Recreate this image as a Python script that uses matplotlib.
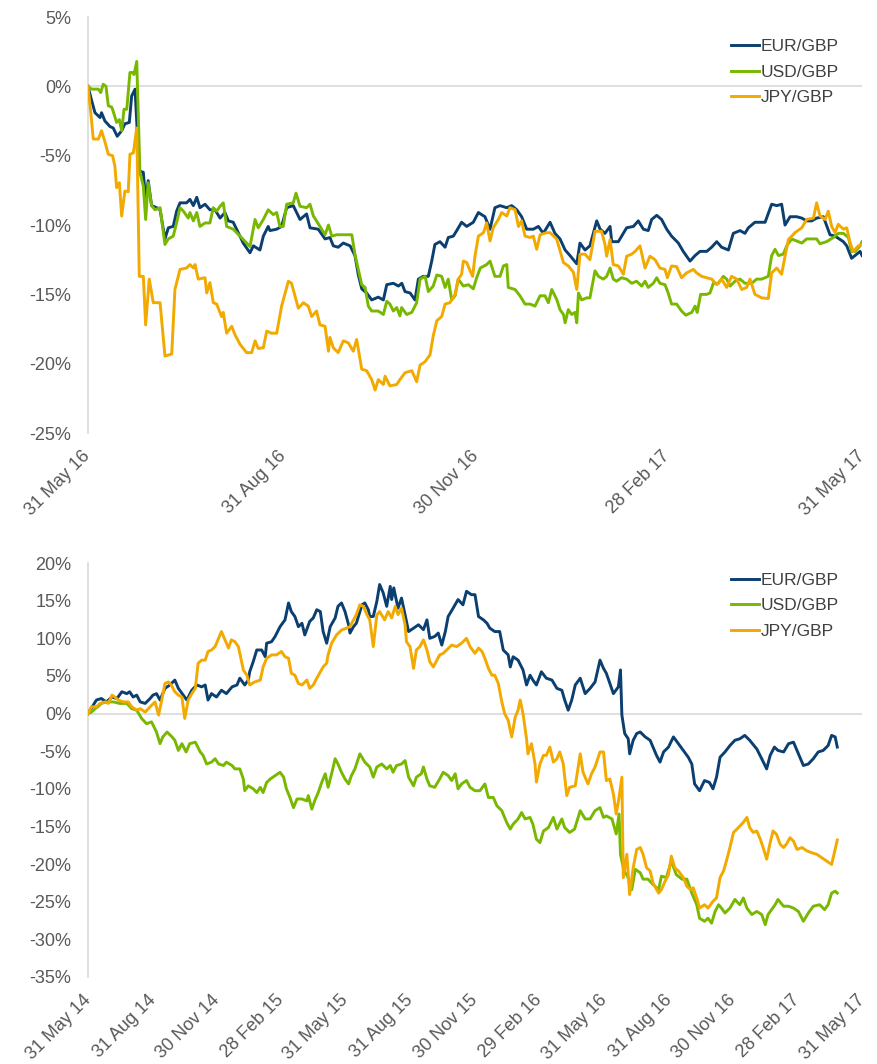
import matplotlib
matplotlib.use('Agg')
import matplotlib.pyplot as plt
from matplotlib.ticker import FuncFormatter
import pandas as pd

plt.rcParams['font.family'] = ['Liberation Sans', 'DejaVu Sans']

eur_col = '#0B3F70'
usd_col = '#78B800'
jpy_col = '#F2A900'
grid_col = '#D9D9D9'
text_col = '#595959'

names = ['EUR/GBP', 'USD/GBP', 'JPY/GBP']

# top chart: (days after 31 May 16, % change)
top_start = '2016-05-31'
top_end = '2017-05-31'
top_ticks = ['31 May 16', '31 Aug 16', '30 Nov 16', '28 Feb 17', '31 May 17']

top_eur = [(0, 0.0), (1.7, -1.0), (3.3, -1.9), (5.7, -2.25), (6.4, -1.9), (8.0, -2.5), (10.4, -2.9), (11.9, -3.0),
           (13.8, -3.6), (15.9, -3.2), (17.4, -2.7), (19.5, -2.6), (20.6, -0.7), (22.2, -0.2), (24.2, -6.1),
           (26.1, -6.2), (27.2, -8.2), (28.4, -6.8), (30.0, -8.6), (32.4, -8.75), (34.0, -8.9), (36.3, -11.0),
           (37.9, -10.2), (40.2, -10.1), (41.8, -9.0), (43.4, -8.4), (46.5, -8.4), (48.1, -8.15), (49.7, -8.6),
           (51.3, -8.0), (52.8, -8.75), (55.2, -8.5), (57.5, -8.9), (59.9, -8.9), (62.3, -9.5), (64.6, -9.1),
           (66.2, -9.7), (68.5, -9.8), (70.1, -10.3), (73.2, -11.3), (76.4, -12.0), (78.0, -11.5), (81.1, -11.8),
           (82.7, -10.8), (85.0, -10.1), (85.8, -10.4), (89.0, -10.3), (91.3, -10.1), (93.7, -8.75), (96.8, -8.6),
           (100.0, -9.6), (103.1, -9.2), (104.7, -10.2), (108.6, -10.3), (111.8, -11.0), (114.1, -10.9),
           (115.7, -11.5), (118.0, -11.6), (120.4, -11.3), (123.6, -11.5), (125.9, -12.2), (127.5, -13.6),
           (129.1, -14.6), (131.4, -14.9), (133.8, -15.4), (136.9, -15.2), (139.3, -15.4), (140.9, -14.3),
           (144.0, -14.2), (146.4, -14.4), (148.0, -14.2), (149.5, -14.8), (151.9, -14.9), (154.2, -15.4),
           (155.8, -13.9), (158.1, -13.7), (160.5, -13.7), (162.1, -12.6), (163.6, -11.4), (166.0, -11.2),
           (168.4, -11.6), (169.9, -10.9), (172.3, -10.8), (173.9, -10.4), (176.2, -9.8), (178.6, -10.1),
           (181.7, -9.8), (184.1, -9.1), (187.2, -9.4), (189.6, -10.3), (191.9, -8.75), (194.3, -8.6),
           (197.5, -8.75), (199.8, -8.6), (202.2, -8.9), (204.5, -9.4), (206.9, -10.3), (210.0, -10.3),
           (212.4, -10.1), (214.7, -10.6), (217.9, -9.8), (220.2, -10.6), (222.6, -11.0), (225.0, -11.8),
           (227.3, -12.2), (230.5, -12.8), (232.0, -11.3), (234.4, -11.8), (236.7, -11.5), (238.3, -10.6),
           (239.9, -9.7), (241.5, -10.3), (243.8, -10.6), (246.2, -10.1), (247.0, -11.2), (250.1, -11.2),
           (254.0, -10.2), (257.2, -10.1), (259.5, -9.7), (261.9, -10.3), (264.2, -10.4), (265.8, -9.6),
           (268.2, -9.3), (270.5, -9.6), (272.9, -10.3), (275.2, -10.8), (278.4, -11.3), (280.7, -11.9),
           (283.9, -12.6), (286.3, -12.2), (288.6, -11.9), (291.8, -11.9), (294.1, -11.6), (296.5, -11.2),
           (298.8, -11.6), (302.0, -11.8), (304.3, -10.6), (307.5, -10.4), (309.8, -10.6), (311.4, -10.2),
           (314.5, -9.8), (319.3, -9.8), (322.4, -8.5), (324.8, -8.6), (327.1, -8.5), (328.7, -10.0),
           (331.1, -9.4), (334.2, -9.4), (336.6, -9.5), (338.9, -9.7), (341.3, -9.7), (343.6, -9.5),
           (346.8, -9.4), (349.9, -10.7), (352.3, -10.8), (356.2, -11.2), (357.8, -11.5), (360.1, -12.4),
           (362.5, -12.1), (364.1, -11.9), (365, -12.2)]

top_usd = [(0, 0.0), (1.7, -0.2), (3.3, -0.2), (4.9, -0.2), (6.0, -0.45), (7.2, 0.15), (8.5, 0.0), (9.6, -1.4),
           (11.2, -1.5), (11.9, -1.8), (13.5, -2.6), (14.8, -2.4), (15.9, -3.2), (17.0, -1.65), (18.3, -1.65),
           (19.8, 1.0), (21.1, 1.0), (21.7, 0.85), (23.0, 1.8), (24.5, -6.2), (26.1, -7.2), (27.2, -9.6),
           (28.4, -6.95), (30.0, -8.6), (31.6, -8.9), (34.0, -8.75), (36.3, -11.4), (37.9, -11.0), (40.2, -10.8),
           (41.8, -9.85), (43.4, -8.75), (45.0, -9.0), (47.3, -9.5), (48.1, -9.1), (49.7, -9.7), (51.3, -9.1),
           (52.8, -10.1), (55.2, -9.85), (57.5, -9.85), (59.1, -8.75), (60.7, -9.0), (62.3, -8.65), (63.8, -8.4),
           (65.4, -10.1), (68.5, -10.3), (71.7, -10.8), (74.8, -11.3), (76.4, -11.55), (78.8, -9.6), (80.3, -10.2),
           (82.7, -9.6), (85.0, -8.9), (87.4, -9.25), (89.0, -9.1), (90.5, -10.1), (92.1, -10.1), (93.7, -8.5),
           (96.8, -8.4), (98.1, -7.7), (100.0, -8.65), (103.1, -8.75), (104.7, -8.5), (106.3, -9.35),
           (109.4, -10.1), (111.8, -10.7), (113.4, -10.0), (115.0, -10.8), (117.3, -10.7), (120.4, -10.7),
           (124.4, -10.7), (126.0, -12.2), (127.5, -13.2), (129.1, -14.3), (130.7, -14.5), (132.2, -15.85),
           (133.8, -16.2), (136.9, -16.2), (139.3, -16.45), (140.9, -15.5), (142.4, -15.7), (144.0, -16.2),
           (145.6, -15.95), (147.1, -16.55), (147.9, -15.95), (150.3, -16.45), (152.7, -16.3), (155.0, -15.6),
           (156.6, -13.9), (159.0, -13.7), (160.5, -14.8), (162.8, -14.4), (164.5, -13.6), (166.8, -13.7),
           (168.4, -14.5), (169.9, -13.9), (171.5, -15.4), (173.1, -15.1), (174.6, -13.9), (177.0, -14.4),
           (179.4, -14.3), (181.7, -14.6), (183.3, -13.8), (185.0, -13.1), (188.0, -12.85), (189.6, -12.6),
           (191.9, -13.7), (194.3, -13.7), (195.9, -12.95), (197.5, -12.85), (198.2, -14.5), (201.4, -14.65),
           (203.7, -15.1), (206.1, -15.7), (208.5, -15.7), (210.8, -15.85), (213.2, -15.1), (215.5, -15.1),
           (217.1, -15.6), (218.7, -14.65), (221.0, -15.35), (222.6, -16.1), (224.2, -16.45), (225.0, -17.05),
           (226.5, -16.1), (228.1, -16.45), (229.7, -16.3), (230.5, -17.05), (231.3, -14.9), (232.8, -15.4),
           (235.2, -15.25), (236.7, -15.25), (239.1, -13.3), (240.7, -13.7), (243.0, -13.9), (244.6, -13.7),
           (246.2, -13.1), (247.7, -13.9), (249.3, -14.05), (251.6, -13.8), (254.0, -13.9), (256.4, -14.2),
           (258.7, -14.05), (261.1, -14.4), (262.7, -14.05), (264.2, -14.5), (266.6, -14.2), (268.2, -13.8),
           (269.7, -14.2), (272.1, -14.3), (273.6, -14.9), (275.2, -15.7), (277.6, -15.7), (279.9, -16.2),
           (281.9, -16.5), (284.7, -16.3), (286.3, -15.85), (287.3, -16.3), (288.9, -15.0), (291.8, -15.0),
           (293.3, -14.9), (294.9, -14.2), (297.3, -14.2), (299.6, -13.7), (301.2, -13.9), (302.8, -14.4),
           (305.1, -14.05), (307.5, -13.9), (309.8, -14.2), (313.0, -14.2), (315.3, -13.9), (317.7, -13.9),
           (320.8, -13.7), (322.4, -12.2), (324.0, -11.75), (325.6, -12.2), (327.9, -12.1), (329.5, -11.5),
           (331.8, -11.0), (334.2, -11.15), (336.6, -11.3), (338.9, -11.0), (341.3, -11.0), (343.6, -11.0),
           (345.2, -11.35), (348.3, -11.2), (351.5, -10.9), (353.8, -10.6), (356.2, -10.6), (358.6, -10.9),
           (360.1, -11.9), (361.7, -11.9), (364.1, -11.5), (365, -11.2)]

top_jpy = [(0, 0.0), (1.4, -2.0), (2.5, -3.8), (4.9, -3.8), (6.4, -3.2), (8.0, -4.0), (9.6, -4.9), (11.6, -5.0),
           (12.7, -5.75), (13.5, -7.3), (14.8, -6.95), (15.9, -9.35), (17.4, -7.55), (19.0, -7.6), (19.8, -4.9),
           (21.4, -4.8), (23.0, -3.0), (24.2, -13.7), (26.1, -13.7), (27.2, -17.2), (28.9, -13.9), (30.8, -15.6),
           (34.0, -15.6), (36.3, -19.45), (39.5, -19.3), (41.0, -14.65), (43.4, -13.2), (46.5, -13.1),
           (48.1, -12.85), (49.7, -13.1), (50.5, -12.85), (52.0, -13.9), (55.2, -13.8), (56.0, -14.9),
           (57.5, -14.15), (59.1, -15.6), (60.7, -15.7), (63.0, -16.6), (63.8, -16.3), (65.4, -17.8),
           (67.8, -17.3), (69.3, -17.9), (71.7, -18.6), (74.8, -19.2), (77.2, -19.2), (78.8, -18.35),
           (80.3, -18.9), (82.7, -18.85), (84.3, -17.65), (86.6, -17.8), (89.0, -17.8), (91.3, -15.85),
           (94.5, -14.05), (96.0, -14.2), (99.2, -16.0), (101.6, -15.6), (103.9, -15.85), (105.5, -16.6),
           (107.8, -16.2), (109.4, -17.2), (111.8, -17.3), (113.4, -19.1), (114.1, -18.1), (115.7, -18.85),
           (118.0, -19.2), (120.4, -18.35), (122.8, -18.5), (125.1, -19.1), (126.7, -18.25), (129.1, -20.4),
           (131.4, -20.5), (133.8, -21.15), (135.4, -21.9), (136.9, -21.15), (139.3, -21.5), (140.1, -20.9),
           (142.4, -21.6), (145.6, -21.5), (147.1, -21.15), (149.5, -20.65), (152.7, -20.5), (155.0, -21.3),
           (156.6, -20.1), (159.0, -19.85), (161.3, -19.35), (162.8, -18.0), (164.5, -16.9), (166.8, -16.6),
           (168.4, -15.7), (170.7, -15.6), (173.1, -15.0), (174.6, -13.9), (176.2, -13.55), (177.0, -12.6),
           (178.6, -12.7), (180.2, -13.3), (181.4, -13.7), (182.5, -12.25), (184.1, -10.8), (186.5, -10.55),
           (188.0, -9.85), (189.6, -11.15), (191.1, -10.2), (193.5, -9.6), (195.1, -9.1), (197.5, -9.35),
           (199.0, -8.75), (201.4, -8.9), (203.0, -10.1), (204.5, -9.7), (206.1, -10.8), (208.5, -10.9),
           (210.0, -10.8), (211.6, -11.75), (213.2, -10.7), (216.3, -10.55), (217.9, -10.55), (221.0, -11.0),
           (224.2, -12.7), (226.5, -12.95), (228.9, -13.4), (230.5, -14.65), (232.0, -12.1), (234.4, -12.1),
           (236.7, -12.5), (239.1, -10.45), (242.2, -10.45), (243.8, -11.4), (244.6, -12.25), (246.2, -11.05),
           (247.7, -12.85), (250.1, -12.95), (252.5, -13.55), (254.0, -12.25), (256.4, -12.1), (258.0, -11.9),
           (260.3, -11.5), (262.7, -13.1), (265.0, -12.25), (267.4, -12.5), (269.7, -13.1), (272.1, -13.2),
           (273.2, -13.8), (275.2, -12.95), (277.6, -13.0), (279.9, -13.8), (282.3, -13.45), (285.5, -13.2),
           (287.0, -13.45), (289.4, -13.7), (291.8, -13.8), (294.1, -13.9), (296.5, -14.3), (298.8, -13.9),
           (301.2, -14.5), (303.5, -13.7), (305.9, -13.9), (308.3, -14.65), (310.6, -14.5), (312.2, -13.9),
           (314.5, -15.0), (317.7, -15.25), (320.8, -15.3), (322.4, -13.45), (324.8, -13.1), (327.1, -13.55),
           (328.7, -12.25), (330.3, -11.05), (333.4, -10.55), (336.6, -10.2), (338.9, -9.6), (342.1, -9.5),
           (343.6, -8.4), (345.2, -9.35), (347.6, -9.6), (349.1, -9.0), (350.7, -10.1), (352.3, -10.55),
           (353.8, -9.95), (356.2, -10.3), (357.8, -10.2), (359.4, -11.3), (360.9, -11.9), (363.3, -11.5),
           (365, -11.4)]

# bottom chart: (days after 31 May 14, % change)
bot_start = '2014-05-31'
bot_end = '2017-05-31'
bot_ticks = ['31 May 14', '31 Aug 14', '30 Nov 14', '28 Feb 15', '31 May 15', '31 Aug 15', '30 Nov 15',
             '29 Feb 16', '31 May 16', '31 Aug 16', '30 Nov 16', '28 Feb 17', '31 May 17']

bot_eur = [(0, 0.0), (12, 1.8), (19, 2.0), (26, 1.55), (34, 2.2), (41, 2.0), (48, 2.9), (55, 2.65), (59, 2.9),
           (64, 2.2), (69, 2.45), (74, 1.55), (81, 1.35), (88, 2.0), (92, 2.45), (97, 2.65), (102, 1.8),
           (109, 3.35), (116, 3.8), (123, 4.45), (128, 3.35), (135, 2.45), (140, 1.8), (147, 3.1), (154, 3.8),
           (161, 3.55), (166, 3.8), (170, 1.8), (175, 2.65), (182, 2.2), (189, 3.1), (196, 2.65), (204, 3.55),
           (211, 3.8), (215, 4.7), (222, 3.8), (227, 4.45), (229, 5.55), (234, 6.9), (239, 8.45), (246, 8.45),
           (251, 7.55), (253, 9.35), (260, 9.55), (265, 10.25), (272, 11.55), (279, 12.45), (284, 14.7),
           (288, 13.55), (293, 12.9), (298, 11.55), (303, 12.0), (307, 10.45), (314, 12.25), (319, 12.7),
           (324, 13.8), (329, 13.55), (333, 10.9), (338, 9.35), (343, 11.55), (350, 12.7), (354, 14.25),
           (359, 14.7), (364, 13.55), (369, 11.8), (371, 10.7), (376, 11.55), (380, 12.0), (388, 14.45),
           (392, 14.7), (397, 13.8), (399, 12.9), (404, 12.9), (409, 14.9), (413, 17.15), (418, 16.05),
           (423, 14.25), (428, 16.9), (430, 15.15), (433, 16.7), (439, 14.0), (444, 15.35), (449, 13.15),
           (454, 10.9), (461, 11.35), (468, 11.8), (475, 11.15), (480, 12.45), (484, 10.0), (491, 10.25),
           (496, 10.7), (501, 9.1), (506, 10.9), (510, 12.9), (517, 14.0), (524, 15.15), (531, 14.45),
           (536, 16.25), (543, 15.8), (548, 15.8), (553, 12.9), (560, 12.45), (565, 12.0), (569, 11.35),
           (576, 10.9), (583, 10.9), (588, 8.45), (595, 7.8), (598, 6.2), (602, 7.55), (609, 7.1), (616, 5.8),
           (621, 3.8), (626, 5.1), (630, 4.45), (635, 3.8), (642, 5.55), (649, 4.7), (657, 4.45), (664, 3.35),
           (671, 3.1), (675, 1.8), (680, 0.45), (685, 1.8), (690, 3.8), (697, 4.7), (704, 2.65), (711, 3.35),
           (718, 4.2), (725, 7.1), (730, 6.0), (734, 5.35), (739, 4.0), (744, 2.65), (751, 3.55), (754, 5.8),
           (756, -0.2), (760, -2.65), (765, -3.35), (767, -5.35), (772, -3.55), (777, -2.65), (782, -2.45),
           (789, -3.1), (796, -3.55), (800, -4.45), (805, -5.55), (810, -6.45), (815, -5.1), (822, -4.45),
           (829, -3.1), (836, -4.0), (843, -4.9), (850, -5.8), (855, -6.7), (859, -9.35), (866, -10.25),
           (873, -8.9), (880, -9.15), (885, -10.0), (890, -8.45), (895, -5.8), (902, -5.1), (909, -4.25),
           (916, -3.55), (923, -3.35), (930, -2.9), (937, -3.55), (947, -4.7), (954, -6.0), (961, -7.35),
           (966, -5.55), (972, -4.45), (977, -4.9), (985, -5.1), (992, -4.0), (999, -3.8), (1006, -5.35),
           (1013, -6.9), (1020, -6.7), (1027, -6.0), (1034, -5.1), (1041, -4.9), (1048, -4.25), (1053, -2.9),
           (1058, -3.1), (1061, -4.45)]

bot_usd = [(0, 0.0), (5, 0.2), (10, 0.65), (14, 0.9), (19, 1.35), (26, 1.55), (36, 1.55), (45, 1.35), (55, 1.35),
           (62, 0.65), (69, 0.45), (76, -0.65), (83, -1.35), (90, -1.1), (97, -2.45), (102, -4.0), (106, -3.1),
           (112, -2.45), (119, -3.1), (123, -3.55), (128, -4.9), (133, -4.0), (139, -5.1), (144, -4.0),
           (152, -3.8), (159, -5.1), (163, -5.55), (168, -6.7), (175, -6.45), (180, -6.0), (185, -6.7),
           (192, -6.9), (196, -6.45), (204, -6.9), (208, -7.35), (215, -7.35), (220, -8.7), (222, -10.25),
           (227, -9.6), (234, -10.0), (239, -10.5), (244, -9.8), (248, -10.5), (253, -9.15), (258, -8.7),
           (265, -8.25), (272, -7.8), (277, -8.45), (281, -10.0), (286, -11.15), (291, -12.5), (296, -11.35),
           (303, -11.35), (310, -11.6), (312, -10.9), (317, -12.7), (321, -11.6), (326, -10.5), (331, -9.15),
           (336, -8.0), (340, -9.8), (345, -8.0), (350, -6.0), (354, -6.7), (359, -7.8), (364, -8.7),
           (369, -9.35), (373, -8.25), (378, -7.35), (385, -5.35), (392, -6.45), (399, -7.1), (404, -8.45),
           (409, -7.1), (416, -6.7), (423, -7.35), (428, -6.9), (432, -7.8), (437, -6.9), (444, -6.7),
           (449, -6.25), (454, -8.45), (461, -9.6), (465, -8.45), (472, -8.0), (475, -7.1), (480, -8.7),
           (484, -9.6), (491, -9.8), (498, -8.7), (503, -7.8), (510, -8.25), (515, -8.9), (520, -8.0),
           (524, -10.0), (529, -9.35), (536, -8.9), (541, -9.8), (548, -10.25), (555, -10.25), (562, -9.35),
           (567, -11.15), (574, -11.15), (579, -12.25), (586, -12.9), (593, -14.5), (598, -15.35), (602, -14.7),
           (609, -14.0), (614, -13.15), (619, -14.0), (626, -13.8), (630, -14.7), (635, -16.7), (640, -17.15),
           (645, -15.6), (652, -15.15), (659, -13.8), (664, -15.35), (671, -14.0), (675, -15.15), (682, -15.8),
           (689, -15.35), (697, -12.9), (704, -14.0), (711, -14.0), (718, -12.9), (725, -12.5), (730, -13.8),
           (734, -13.6), (742, -14.0), (748, -16.0), (752, -13.35), (754, -18.7), (759, -20.9), (764, -21.6),
           (770, -23.4), (775, -20.7), (782, -21.15), (786, -22.0), (793, -22.0), (800, -22.7), (808, -23.4),
           (812, -21.6), (819, -21.8), (826, -19.6), (833, -21.4), (841, -22.0), (848, -22.0), (855, -23.85),
           (862, -25.4), (866, -27.2), (873, -27.6), (878, -27.2), (883, -27.85), (888, -26.3), (893, -25.4),
           (897, -25.85), (902, -26.5), (909, -25.85), (916, -24.7), (923, -25.4), (928, -24.5), (933, -25.85),
           (940, -26.7), (947, -26.3), (954, -26.7), (959, -28.05), (963, -26.7), (968, -26.05), (973, -25.4),
           (977, -24.7), (985, -25.6), (992, -25.6), (999, -25.85), (1006, -26.3), (1013, -27.6), (1020, -26.5),
           (1027, -25.6), (1036, -25.4), (1043, -26.05), (1048, -25.4), (1053, -23.85), (1058, -23.6),
           (1061, -23.85)]

bot_jpy = [(0, 0.0), (5, 0.9), (12, 0.9), (17, 1.35), (24, 1.55), (29, 1.35), (34, 2.45), (38, 2.2), (43, 1.8),
           (50, 1.55), (57, 1.55), (62, 0.9), (69, 0.45), (74, 0.65), (81, 0.2), (88, 0.9), (95, 1.55),
           (100, -0.2), (104, 1.55), (109, 4.0), (114, 4.2), (118, 3.8), (123, 2.9), (128, 2.45), (133, 2.2),
           (137, -0.65), (142, 1.8), (147, 2.65), (152, 3.35), (156, 6.7), (161, 7.1), (166, 7.1), (170, 8.25),
           (175, 8.45), (180, 8.9), (185, 10.0), (189, 10.9), (194, 9.8), (199, 8.7), (203, 9.8), (208, 9.55),
           (213, 8.9), (220, 5.8), (225, 5.1), (229, 3.8), (236, 4.2), (244, 4.45), (248, 6.2), (253, 7.35),
           (260, 7.8), (267, 7.8), (274, 8.25), (279, 7.55), (284, 7.35), (288, 5.35), (293, 5.1), (298, 4.0),
           (303, 3.8), (310, 4.45), (314, 3.35), (319, 3.8), (324, 4.7), (329, 5.55), (333, 6.2), (338, 6.7),
           (340, 7.8), (345, 9.35), (352, 10.45), (359, 11.1), (366, 11.35), (371, 11.55), (376, 12.45),
           (380, 13.15), (385, 14.45), (390, 14.25), (395, 13.15), (399, 12.45), (404, 8.9), (409, 13.1),
           (413, 13.55), (420, 12.45), (425, 13.55), (430, 12.7), (435, 14.25), (439, 13.15), (444, 14.0),
           (449, 11.8), (451, 9.55), (456, 8.9), (461, 6.0), (465, 8.45), (470, 8.9), (475, 9.8), (480, 8.45),
           (484, 6.9), (489, 6.2), (494, 7.1), (498, 7.8), (503, 8.0), (508, 8.45), (515, 9.1), (522, 8.9),
           (529, 9.35), (536, 10.0), (541, 8.9), (548, 8.0), (553, 8.7), (558, 8.25), (562, 7.35), (567, 6.0),
           (572, 5.1), (576, 5.1), (581, 4.0), (586, 1.55), (590, 0.0), (595, -0.9), (600, -3.1), (605, -0.45),
           (609, 0.45), (612, 1.8), (616, 0.0), (621, -3.35), (623, -5.35), (628, -4.0), (633, -6.7),
           (635, -9.1), (640, -6.7), (645, -5.55), (649, -5.55), (654, -4.45), (659, -6.45), (664, -6.0),
           (668, -5.1), (673, -6.7), (678, -10.9), (682, -9.8), (690, -9.6), (697, -5.35), (701, -7.8),
           (708, -9.35), (713, -8.0), (718, -7.1), (725, -5.1), (730, -5.1), (734, -8.9), (739, -8.7),
           (744, -10.7), (748, -13.35), (752, -11.15), (756, -8.45), (758, -21.8), (763, -18.7), (767, -24.05),
           (772, -20.5), (777, -18.05), (782, -17.8), (786, -18.7), (791, -20.5), (796, -20.9), (800, -22.5),
           (808, -23.85), (812, -23.4), (817, -22.3), (822, -21.4), (826, -18.95), (831, -20.5), (836, -20.9),
           (843, -21.8), (848, -22.95), (853, -23.4), (857, -23.15), (862, -24.5), (866, -25.85), (873, -25.4),
           (878, -25.85), (885, -24.95), (890, -24.5), (895, -21.8), (900, -20.9), (904, -19.6), (909, -17.8),
           (914, -15.8), (921, -15.15), (928, -14.45), (933, -13.8), (937, -15.15), (942, -15.8), (947, -15.6),
           (952, -16.7), (956, -17.8), (961, -19.35), (966, -17.15), (970, -15.6), (975, -16.05), (980, -17.35),
           (985, -17.8), (989, -17.35), (994, -16.5), (999, -16.95), (1004, -18.05), (1011, -17.8),
           (1018, -18.25), (1025, -18.5), (1032, -18.7), (1039, -19.15), (1046, -19.6), (1053, -20.05),
           (1058, -18.05), (1061, -16.8)]


def to_xy(start, pts):
    days = [p[0] for p in pts]
    vals = [p[1] for p in pts]
    dates = pd.Timestamp(start) + pd.to_timedelta(days, unit='D')
    return dates, vals


def draw(ax, start, end, series, ticks, yticks, legend_anchor):
    for pts, col, name in zip(series, [eur_col, usd_col, jpy_col], names):
        x, y = to_xy(start, pts)
        ax.plot(x, y, color=col, lw=2.1, label=name, zorder=3, solid_joinstyle='round')
    ax.axhline(0, color=grid_col, lw=1.2, zorder=1)
    ax.set_xlim(pd.Timestamp(start), pd.Timestamp(end))
    ax.set_ylim(yticks[0], yticks[-1])
    ax.set_yticks(yticks)
    ax.yaxis.set_major_formatter(FuncFormatter(lambda v, p: '%d%%' % v))
    tick_dates = pd.date_range(start, end, freq='3ME')
    ax.set_xticks(tick_dates)
    ax.set_xticklabels(ticks, rotation=45, ha='right', va='center', rotation_mode='anchor')
    for s in ['top', 'right', 'bottom']:
        ax.spines[s].set_visible(False)
    ax.spines['left'].set_color(grid_col)
    ax.spines['left'].set_linewidth(1.2)
    ax.tick_params(axis='both', length=0, labelsize=13, labelcolor=text_col)
    ax.tick_params(axis='y', pad=12)
    ax.tick_params(axis='x', pad=15)
    ax.legend(loc='upper right', bbox_to_anchor=legend_anchor, frameon=False, fontsize=12.5,
              handlelength=1.6, handletextpad=0.1, labelspacing=0.6, labelcolor='#404040')


fig = plt.figure(figsize=(8.77, 10.64), dpi=100)
ax1 = fig.add_axes([0.1003, 0.5930, 0.8826, 0.391])
ax2 = fig.add_axes([0.1003, 0.0818, 0.8826, 0.389])

draw(ax1, top_start, top_end, [top_eur, top_usd, top_jpy], top_ticks, list(range(-25, 6, 5)), (0.99, 0.985))
draw(ax2, bot_start, bot_end, [bot_eur, bot_usd, bot_jpy], bot_ticks, list(range(-35, 21, 5)), (0.99, 1.015))

fig.savefig('out.png', dpi=100)
